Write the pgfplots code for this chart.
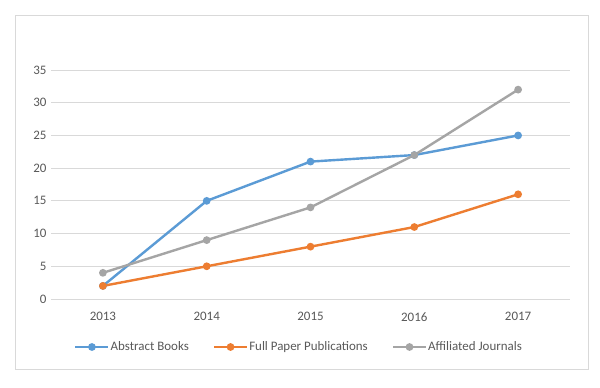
\documentclass[border=0pt]{standalone}
\usepackage{pgfplots}
\pgfplotsset{compat=1.18}
\usepackage{fontspec}
\setmainfont{Carlito}
\definecolor{cblue}{HTML}{5B9BD5}
\definecolor{corange}{HTML}{ED7D31}
\definecolor{cgray}{HTML}{A5A5A5}
\definecolor{gridc}{HTML}{D9D9D9}
\definecolor{txt}{HTML}{595959}
\begin{document}
\begin{tikzpicture}[x=1bp,y=1bp]
\fill[white] (0,0) rectangle (600,387);
\draw[gridc, line width=0.9bp] (15,18) rectangle (588,372);
\begin{axis}[
  at={(51bp,88bp)}, anchor=south west,
  scale only axis, width=519bp, height=229bp,
  xmin=-0.5, xmax=4.5, ymin=0, ymax=35,
  xtick={0,1,2,3,4},
  xticklabels={2013,2014,2015,2016,2017},
  ytick={0,5,10,15,20,25,30,35},
  axis line style={draw=none},
  major tick length=0pt,
  ymajorgrids, xmajorgrids=false,
  grid style={color=gridc, line width=0.9bp},
  tick label style={font=\fontsize{13}{15}\selectfont, text=txt},
  /pgf/number format/assume math mode=true,
  xticklabel style={yshift=-10bp},
  yticklabel style={xshift=-1bp},
  clip=false,
  legend columns=3,
  legend style={draw=none, fill=none, at={(0.477,-0.2096)}, anchor=center,
    font=\fontsize{13}{15}\selectfont, text=txt,
    /tikz/every even column/.append style={column sep=23bp},
    nodes={inner xsep=1bp}},
  legend image code/.code={\draw[mark repeat=2,mark phase=2,#1] plot coordinates {(0bp,0bp) (16.5bp,0bp) (33bp,0bp)};},
  every axis plot/.append style={line width=2.4bp, mark=*, mark size=2.6bp},
]
\addplot[cblue, mark options={fill=cblue, draw=cblue}] coordinates {(0,2) (1,15) (2,21) (3,22) (4,25)};
\addlegendentry{Abstract Books}
\addplot[corange, mark options={fill=corange, draw=corange}] coordinates {(0,2) (1,5) (2,8) (3,11) (4,16)};
\addlegendentry{Full Paper Publications}
\addplot[cgray, mark options={fill=cgray, draw=cgray}] coordinates {(0,4) (1,9) (2,14) (3,22) (4,32)};
\addlegendentry{Affiliated Journals}
\end{axis}
\end{tikzpicture}
\end{document}
